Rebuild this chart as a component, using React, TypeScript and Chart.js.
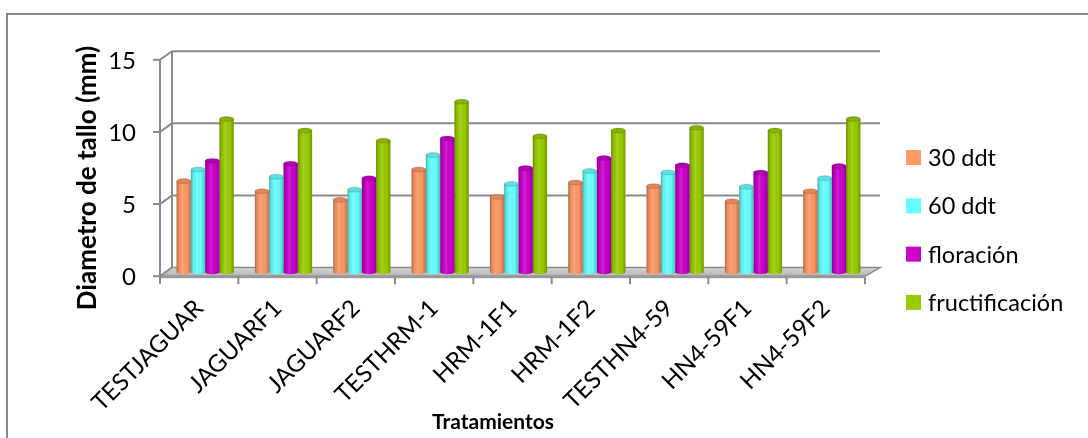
import React, { useEffect, useRef } from "react";
import { Chart, registerables } from "chart.js";

Chart.register(...registerables);

const categories = [
  "TESTJAGUAR",
  "JAGUARF1",
  "JAGUARF2",
  "TESTHRM-1",
  "HRM-1F1",
  "HRM-1F2",
  "TESTHN4-59",
  "HN4-59F1",
  "HN4-59F2",
];
const seriesNames = ["30 ddt", "60 ddt", "floración", "fructificación"];
const d30 = [6.3, 5.6, 5.0, 7.1, 5.2, 6.2, 5.95, 4.9, 5.6];
const d60 = [7.1, 6.6, 5.7, 8.1, 6.1, 7.0, 6.9, 5.9, 6.5];
const floracion = [7.7, 7.5, 6.5, 9.25, 7.2, 7.9, 7.4, 6.9, 7.35];
const fructificacion = [10.6, 9.8, 9.1, 11.8, 9.4, 9.8, 10.0, 9.8, 10.6];
const yTicks = [0, 5, 10, 15];
const colors = ["#FF9966", "#66FFFF", "#CC00CC", "#99CC00"];
const yTitle = "Diametro de tallo (mm)";
const xTitle = "Tratamientos";

const FONT = "Lato, 'Open Sans', sans-serif";
const DX = 6;
const DY = 4.3;
const GRID = "#8a8a8a";

const framePlugin = {
  id: "frame3d",
  beforeDatasetsDraw(chart: any) {
    const { ctx, chartArea, scales } = chart;
    const y = scales.y;
    const L = chartArea.left;
    const R = chartArea.right;
    const y0 = y.getPixelForValue(0);
    ctx.save();
    ctx.strokeStyle = GRID;
    ctx.lineWidth = 2;
    ctx.lineCap = "butt";
    yTicks.forEach((v) => {
      const yb = y.getPixelForValue(v) - DY;
      if (v > 0) {
        ctx.beginPath();
        ctx.moveTo(L + DX, yb);
        ctx.lineTo(R + 9, yb);
        ctx.stroke();
      }
      ctx.beginPath();
      ctx.moveTo(L - DX, yb + 2 * DY);
      ctx.lineTo(L + DX, yb);
      ctx.stroke();
    });
    ctx.beginPath();
    ctx.moveTo(L + DX, y.getPixelForValue(15) - DY);
    ctx.lineTo(L + DX, y0 - DY);
    ctx.stroke();
    const g = ctx.createLinearGradient(0, y0 - DY, 0, y0 + DY);
    g.addColorStop(0, "#d6d6d6");
    g.addColorStop(1, "#b4b4b4");
    ctx.beginPath();
    ctx.moveTo(L - DX, y0 + DY);
    ctx.lineTo(R - DX, y0 + DY);
    ctx.lineTo(R + 9, y0 - DY);
    ctx.lineTo(L + DX, y0 - DY);
    ctx.closePath();
    ctx.fillStyle = g;
    ctx.fill();
    ctx.lineWidth = 1.5;
    ctx.stroke();
    ctx.fillStyle = "#9a9a9a";
    ctx.fillRect(L - DX, y0 + DY, R - L, 2);
    ctx.lineWidth = 2;
    ctx.beginPath();
    ctx.moveTo(L - DX, y.getPixelForValue(15) + DY);
    ctx.lineTo(L - DX, y0 + DY + 7);
    ctx.stroke();
    yTicks.forEach((v) => {
      const yf = y.getPixelForValue(v) + DY;
      ctx.beginPath();
      ctx.moveTo(L - DX - 7, yf);
      ctx.lineTo(L - DX, yf);
      ctx.stroke();
    });
    const n = categories.length;
    for (let i = 0; i <= n; i++) {
      const xf = L - DX + (i * (R - L)) / n;
      ctx.beginPath();
      ctx.moveTo(xf, y0 + DY + 1);
      ctx.lineTo(xf, y0 + DY + 8);
      ctx.stroke();
    }
    ctx.restore();
  },
  afterDatasetsDraw(chart: any) {
    const { ctx } = chart;
    ctx.save();
    chart.data.datasets.forEach((ds: any, di: number) => {
      const meta = chart.getDatasetMeta(di);
      meta.data.forEach((el: any) => {
        const { x, y, base, width } = el.getProps(["x", "y", "base", "width"], true);
        const l = x - width / 2;
        const r = x + width / 2;
        const ry = Math.max(2, width * 0.17);
        ctx.beginPath();
        ctx.ellipse(x, base, width / 2, ry, 0, 0, Math.PI);
        ctx.fillStyle = ds.backgroundColor;
        ctx.fill();
        const g = ctx.createLinearGradient(l, 0, r, 0);
        g.addColorStop(0, "rgba(0,0,0,0.32)");
        g.addColorStop(0.18, "rgba(0,0,0,0.06)");
        g.addColorStop(0.42, "rgba(255,255,255,0.14)");
        g.addColorStop(0.7, "rgba(0,0,0,0)");
        g.addColorStop(1, "rgba(0,0,0,0.25)");
        ctx.beginPath();
        ctx.moveTo(l, y);
        ctx.lineTo(r, y);
        ctx.lineTo(r, base);
        ctx.ellipse(x, base, width / 2, ry, 0, 0, Math.PI);
        ctx.closePath();
        ctx.fillStyle = g;
        ctx.fill();
        ctx.beginPath();
        ctx.ellipse(x, y, width / 2, ry, 0, 0, Math.PI * 2);
        ctx.fillStyle = ds.backgroundColor;
        ctx.fill();
        ctx.fillStyle = "rgba(0,0,0,0.12)";
        ctx.fill();
        ctx.strokeStyle = "rgba(0,0,0,0.15)";
        ctx.lineWidth = 1;
        ctx.stroke();
      });
    });
    ctx.restore();
  },
  afterDraw(chart: any) {
    const { ctx } = chart;
    ctx.save();
    ctx.strokeStyle = "#878787";
    ctx.lineWidth = 2;
    ctx.strokeRect(7, 14, 1200, 600);
    ctx.fillStyle = "#000";
    ctx.font = `bold 21px ${FONT}`;
    ctx.textAlign = "center";
    ctx.textBaseline = "middle";
    ctx.fillText(xTitle, 493, 422);
    ctx.save();
    ctx.translate(88, 178);
    ctx.rotate(-Math.PI / 2);
    ctx.font = `bold 26px ${FONT}`;
    ctx.fillText(yTitle, 0, 0);
    ctx.restore();
    ctx.font = `23.5px ${FONT}`;
    ctx.textAlign = "left";
    chart.data.datasets.forEach((ds: any, i: number) => {
      const cy = 157.5 + i * 48.3;
      ctx.fillStyle = ds.backgroundColor;
      ctx.fillRect(906, cy - 7.5, 15, 15);
      ctx.fillStyle = "#000";
      ctx.fillText(ds.label, 928, cy + 1);
    });
    ctx.restore();
  },
};

export default function App() {
  const ref = useRef<HTMLCanvasElement | null>(null);
  useEffect(() => {
    if (!ref.current) return;
    const values = [d30, d60, floracion, fructificacion];
    const chart = new Chart(ref.current, {
      type: "bar",
      data: {
        labels: categories,
        datasets: seriesNames.map((name, i) => ({
          label: name,
          data: values[i],
          backgroundColor: colors[i],
          borderWidth: 0,
          categoryPercentage: 0.73,
          barPercentage: 1.0,
        })),
      },
      options: {
        responsive: false,
        animation: false,
        devicePixelRatio: 1,
        layout: { padding: { top: 55.5, left: 0, right: 217, bottom: 0 } },
        plugins: { legend: { display: false }, tooltip: { enabled: false } },
        scales: {
          x: {
            grid: { display: false, drawTicks: false },
            border: { display: false },
            ticks: {
              color: "#000",
              font: { family: FONT, size: 24 },
              minRotation: 45,
              maxRotation: 45,
              autoSkip: false,
              padding: 22,
              labelOffset: -6,
            },
            afterFit: (s: any) => {
              s.height = 438 - 271.9;
            },
          },
          y: {
            min: 0,
            max: 15,
            grid: { display: false, drawTicks: false },
            border: { display: false },
            ticks: {
              stepSize: 5,
              color: "#000",
              font: { family: FONT, size: 24 },
              padding: 30,
              labelOffset: 5.5,
            },
            afterFit: (s: any) => {
              s.width = 166;
            },
          },
        },
      },
      plugins: [framePlugin],
    });
    return () => chart.destroy();
  }, []);
  return (
    <div style={{ position: "absolute", left: 0, top: 0, width: 1088, height: 438 }}>
      <canvas ref={ref} width={1088} height={438} style={{ display: "block" }} />
    </div>
  );
}
